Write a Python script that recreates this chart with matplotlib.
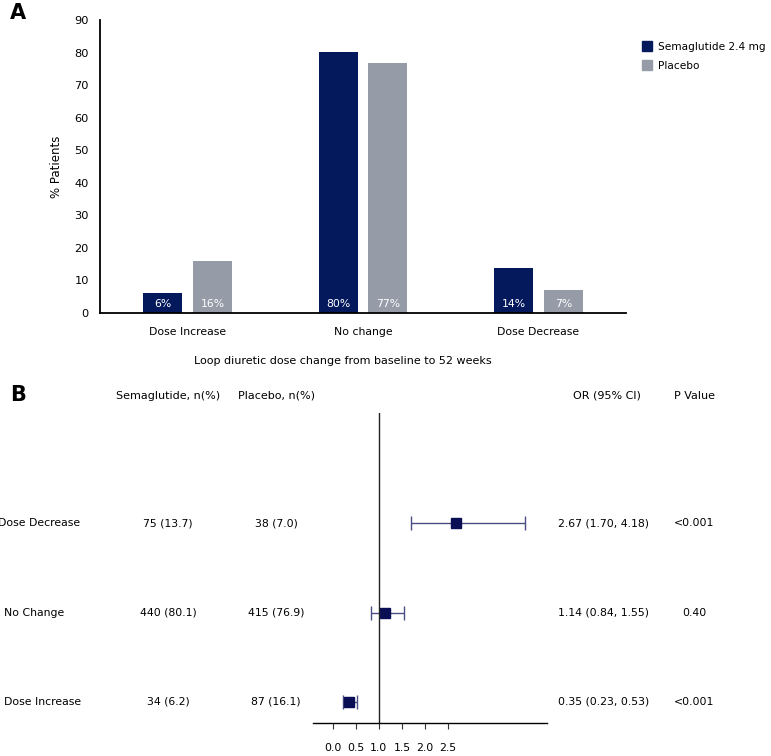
import numpy as np
import matplotlib
matplotlib.use('Agg')
import matplotlib.pyplot as plt
from matplotlib.patches import Patch
from matplotlib.transforms import blended_transform_factory

plt.rcParams['font.family'] = ['DejaVu Sans']

# panel A data
groups = ['Dose Increase', 'No change', 'Dose Decrease']
sema_pct = [6.2, 80.1, 13.7]
placebo_pct = [16.1, 76.9, 7.0]
series_names = ['Semaglutide 2.4 mg', 'Placebo']

# panel B data
rows = ['Dose Increase', 'No Change', 'Dose Decrease']
sema_n = ['34 (6.2)', '440 (80.1)', '75 (13.7)']
placebo_n = ['87 (16.1)', '415 (76.9)', '38 (7.0)']
odds = [0.35, 1.14, 2.67]
ci_low = [0.23, 0.84, 1.70]
ci_high = [0.53, 1.55, 4.18]
p_values = ['<0.001', '0.40', '<0.001']
or_ticks = [0.0, 0.5, 1.0, 1.5, 2.0, 2.5]

navy = '#03195c'
grey = '#959ca8'
W, H = 771, 756
fs = 7.8

fig = plt.figure(figsize=(W / 100, H / 100), dpi=100)

# ---- panel A ----
ax = fig.add_axes([100 / W, 1 - 313 / H, 526 / W, 293 / H])
x = np.arange(len(groups))
off = 0.142
bw = 0.222
b1 = ax.bar(x - off, sema_pct, bw, color=navy)
b2 = ax.bar(x + off, placebo_pct, bw, color=grey)
for bars, vals in ((b1, sema_pct), (b2, placebo_pct)):
    for b, v in zip(bars, vals):
        ax.text(b.get_x() + b.get_width() / 2, 2.9, '%d%%' % round(v),
                color='white', ha='center', va='center', fontsize=fs)
ax.set_xlim(-0.5, 2.5)
ax.set_ylim(0, 90)
ax.set_yticks(range(0, 91, 10))
ax.set_xticks(x)
ax.set_xticklabels(groups)
ax.tick_params(axis='both', length=0, labelsize=8.2)
ax.tick_params(axis='y', pad=8)
ax.tick_params(axis='x', pad=10, labelsize=fs)
for s in ['top', 'right']:
    ax.spines[s].set_visible(False)
for s in ['left', 'bottom']:
    ax.spines[s].set_linewidth(1.3)
ax.set_ylabel('% Patients', fontsize=8.5, labelpad=8)
fig.text(343 / W, 1 - 361 / H, 'Loop diuretic dose change from baseline to 52 weeks',
         ha='center', va='center', fontsize=8)
fig.text(10 / W, 1 - 13 / H, 'A', fontsize=15, fontweight='bold', va='center')

handles = [Patch(color=navy), Patch(color=grey)]
fig.legend(handles, series_names, loc='upper left', bbox_to_anchor=(632 / W, 1 - 32 / H),
           frameon=False, fontsize=7.6, handlelength=1.0, handleheight=1.0,
           handletextpad=0.55, labelspacing=0.8)

# ---- panel B ----
ax2 = fig.add_axes([313 / W, 1 - 723 / H, 234 / W, 310 / H])
y = np.arange(len(rows))
xerr = [np.array(odds) - np.array(ci_low), np.array(ci_high) - np.array(odds)]
ax2.errorbar(odds, y, xerr=xerr, fmt='none', ecolor='#4a4f82', elinewidth=1,
             capsize=5, capthick=1)
ax2.plot(odds, y, 's', color='#0a0f55', markersize=7)
ax2.axvline(1.0, color='#222222', lw=1)
ax2.set_xlim(-0.43, 4.65)
ax2.set_ylim(-0.235, 3.23)
ax2.set_xticks(or_ticks)
ax2.set_xticklabels(['%.1f' % t for t in or_ticks])
ax2.set_yticks([])
ax2.tick_params(axis='x', length=4.5, width=0.8, pad=10, labelsize=fs, color='#333333')
for s in ['top', 'right', 'left']:
    ax2.spines[s].set_visible(False)
ax2.spines['bottom'].set_linewidth(1)

fig.text(10 / W, 1 - 395 / H, 'B', fontsize=15, fontweight='bold', va='center')
hy = 1 - 396 / H
fig.text(168 / W, hy, 'Semaglutide, n(%)', ha='center', va='center', fontsize=8)
fig.text(276 / W, hy, 'Placebo, n(%)', ha='center', va='center', fontsize=8)
fig.text(607 / W, hy, 'OR (95% Cl)', ha='center', va='center', fontsize=8)
fig.text(695 / W, hy, 'P Value', ha='center', va='center', fontsize=8)

tr = blended_transform_factory(fig.transFigure, ax2.transData)
for i in range(len(rows)):
    lx = -2 if rows[i] == 'Dose Decrease' else 4
    ax2.text(lx / W, y[i], rows[i], transform=tr, ha='left', va='center', fontsize=fs)
    ax2.text(168 / W, y[i], sema_n[i], transform=tr, ha='center', va='center', fontsize=fs)
    ax2.text(276 / W, y[i], placebo_n[i], transform=tr, ha='center', va='center', fontsize=fs)
    ax2.text(604 / W, y[i], '%.2f (%.2f, %.2f)' % (odds[i], ci_low[i], ci_high[i]),
             transform=tr, ha='center', va='center', fontsize=fs)
    ax2.text(694 / W, y[i], p_values[i], transform=tr, ha='center', va='center', fontsize=fs)

fig.savefig('out.png', dpi=100)
